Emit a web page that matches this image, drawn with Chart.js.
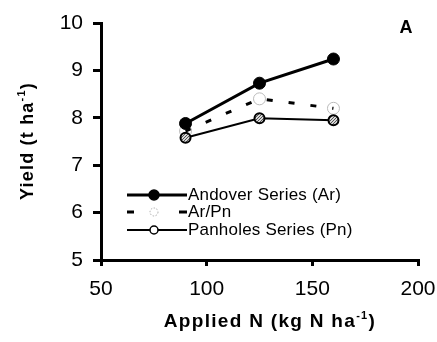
<!DOCTYPE html>
<html>
<head>
<meta charset="utf-8">
<script src="https://cdn.jsdelivr.net/npm/chart.js@4"></script>
<style>
  html, body { margin: 0; padding: 0; background: #fff; }
  #wrap { width: 437px; height: 342px; }
</style>
</head>
<body>
<div id="wrap"><canvas id="yieldChart" width="437" height="342"></canvas></div>
<script>
// Data
const nRates = [90, 125, 160];
const andover = [7.88, 8.73, 9.24];
const arPn = [7.72, 8.40, 8.20];
const panholes = [7.58, 7.99, 7.95];
const seriesNames = ['Andover Series (Ar)', 'Ar/Pn', 'Panholes Series (Pn)'];
const xTicks = [50, 100, 150, 200];
const yTicks = [5, 6, 7, 8, 9, 10];

const FONT = '"Liberation Sans", Arial, sans-serif';

// dotted grey fill for the Panholes markers
function dotPattern() {
  const c = document.createElement('canvas');
  c.width = 3; c.height = 3;
  const g = c.getContext('2d');
  g.fillStyle = '#d8d8d8';
  g.fillRect(0, 0, 3, 3);
  g.fillStyle = '#555';
  g.fillRect(0, 0, 1, 1);
  g.fillRect(2, 1, 1, 1);
  g.fillRect(1, 2, 1, 1);
  return g.createPattern(c, 'repeat');
}

const ctx = document.getElementById('yieldChart').getContext('2d');
const dots = dotPattern();

const toXY = (vals) => vals.map((v, i) => ({ x: nRates[i], y: v }));

// Draw a legend inside the plot, line with marker in the middle
const insideLegend = {
  id: 'insideLegend',
  afterDraw(chart) {
    const c = chart.ctx;
    const rows = [195, 212, 230];
    const x0 = 127, x1 = 187, xm = 154;
    c.save();
    chart.data.datasets.forEach((ds, i) => {
      const y = rows[i];
      c.strokeStyle = ds.borderColor;
      c.lineWidth = ds.borderWidth;
      if (ds.borderDash && ds.borderDash.length) {
        c.beginPath();
        c.moveTo(x0, y); c.lineTo(x0 + 7, y);
        c.moveTo(x1 - 8, y); c.lineTo(x1, y);
        c.stroke();
      } else {
        c.beginPath();
        c.moveTo(x0, y); c.lineTo(x1, y);
        c.stroke();
      }
      const r = i === 0 ? 5 : 4;
      c.beginPath();
      c.arc(xm, y, r, 0, Math.PI * 2);
      c.fillStyle = i === 0 ? '#000' : '#fff';
      c.fill();
      c.setLineDash(i === 1 ? [1.5, 1.5] : []);
      c.lineWidth = i === 1 ? 1 : 1.5;
      c.strokeStyle = i === 1 ? '#aaa' : '#000';
      c.stroke();
      c.setLineDash([]);
      c.fillStyle = '#000';
      c.font = '17px ' + FONT;
      c.letterSpacing = '0.2px';
      c.textBaseline = 'middle';
      c.textAlign = 'left';
      c.fillText(ds.label, 188, y);
    });

    // panel letter
    c.letterSpacing = '0px';
    c.font = 'bold 18px ' + FONT;
    c.textAlign = 'center';
    c.fillText('A', 406, 28);

    // axis titles with superscripts
    function supText(parts, cx, cy, rot, size, spacing) {
      c.save();
      c.translate(cx, cy);
      c.rotate(rot);
      c.letterSpacing = spacing + 'px';
      const big = 'bold ' + size + 'px ' + FONT;
      const small = 'bold 11px ' + FONT;
      let w = 0;
      parts.forEach(p => { c.font = p.sup ? small : big; w += c.measureText(p.t).width; });
      let x = -w / 2;
      c.textAlign = 'left';
      c.textBaseline = 'middle';
      parts.forEach(p => {
        c.font = p.sup ? small : big;
        c.fillText(p.t, x, p.sup ? -6 : 0);
        x += c.measureText(p.t).width;
      });
      c.restore();
    }
    supText([{ t: 'Applied N (kg N ha' }, { t: '-1', sup: true }, { t: ')' }], 270, 322, 0, 19, 1.3);
    supText([{ t: 'Yield (t ha' }, { t: '-1', sup: true }, { t: ')' }], 28, 141, -Math.PI / 2, 18, 1.2);
    c.restore();
  }
};

new Chart(ctx, {
  type: 'line',
  data: {
    datasets: [
      {
        label: seriesNames[0],
        data: toXY(andover),
        borderColor: '#000',
        borderWidth: 3,
        pointRadius: 6,
        pointBackgroundColor: '#000',
        pointBorderColor: '#000',
        pointBorderWidth: 1,
        order: 1,
      },
      {
        label: seriesNames[1],
        data: toXY(arPn),
        borderColor: '#000',
        borderWidth: 3,
        borderDash: [6, 16],
        pointRadius: 6,
        pointBackgroundColor: 'rgba(255,255,255,0)',
        pointBorderColor: '#bbb',
        pointBorderWidth: 1,
        order: 3,
      },
      {
        label: seriesNames[2],
        data: toXY(panholes),
        borderColor: '#000',
        borderWidth: 2,
        pointRadius: 5,
        pointBackgroundColor: dots,
        pointBorderColor: '#000',
        pointBorderWidth: 2,
        order: 2,
      },
    ],
  },
  options: {
    responsive: false,
    animation: false,
    layout: { padding: { top: 23, right: 0, left: 0, bottom: 0 } },
    plugins: {
      legend: { display: false },
      tooltip: { enabled: false },
    },
    scales: {
      x: {
        type: 'linear',
        min: 50,
        max: 200,
        afterBuildTicks: (s) => { s.ticks = xTicks.map(v => ({ value: v })); },
        afterFit: (s) => { s.height = 82; s.paddingRight = 19; },
        border: { display: true, color: '#000', width: 3 },
        grid: { drawOnChartArea: false, color: '#000', lineWidth: 3, tickLength: 6 },
        ticks: {
          color: '#000',
          padding: 11,
          maxRotation: 0,
          font: { family: FONT, size: 21 },
        },
      },
      y: {
        min: 5,
        max: 10,
        afterBuildTicks: (s) => { s.ticks = yTicks.map(v => ({ value: v })); },
        afterFit: (s) => { s.width = 101; },
        border: { display: true, color: '#000', width: 3 },
        grid: { drawOnChartArea: false, color: '#000', lineWidth: 3, tickLength: 8 },
        ticks: {
          color: '#000',
          padding: 10,
          font: { family: FONT, size: 21 },
        },
      },
    },
  },
  plugins: [insideLegend],
});
</script>
</body>
</html>
